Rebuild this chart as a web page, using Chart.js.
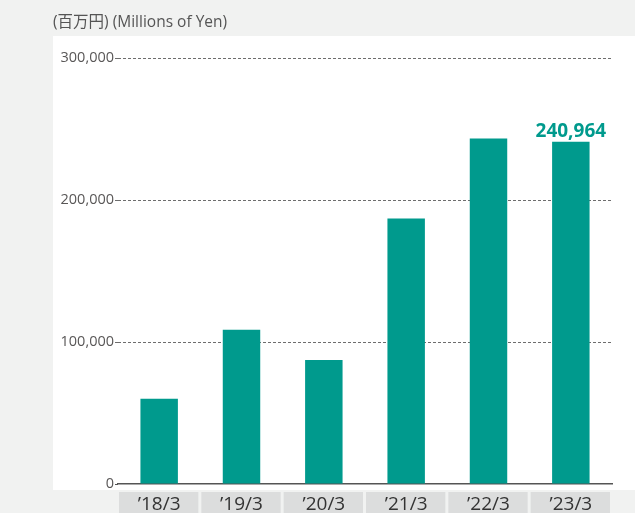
<!DOCTYPE html>
<html>
<head>
<meta charset="utf-8">
<script src="https://cdn.jsdelivr.net/npm/chart.js@4"></script>
<style>
    html, body { margin: 0; padding: 0; background: #f1f2f1; }
    #wrap { width: 635px; height: 513px; position: relative; }
</style>
</head>
<body>
<div id="wrap"><canvas id="salesChart"></canvas></div>
<script>
// Data
const categories = ['\u201918/3', '\u201919/3', '\u201920/3', '\u201921/3', '\u201922/3', '\u201923/3'];
const values = [60000, 108600, 87400, 186900, 243300, 240964];
const yTicks = [0, 100000, 200000, 300000];
const unitLabel = '(百万円) (Millions of Yen)';
const highlightIndex = 5;

const barColor = '#009a8d';
const fontFamily = '"Open Sans", "Noto Sans CJK JP", sans-serif';

// Background panel, title and category cells
const backdropPlugin = {
    id: 'backdrop',
    beforeDraw(chart) {
        const { ctx, chartArea, scales } = chart;
        ctx.save();
        ctx.fillStyle = '#f1f2f1';
        ctx.fillRect(0, 0, chart.width, chart.height);
        ctx.fillStyle = '#ffffff';
        ctx.fillRect(53, 36, chart.width - 53, 454);

        ctx.fillStyle = '#555555';
        ctx.font = '15.5px ' + fontFamily;
        ctx.textBaseline = 'alphabetic';
        ctx.fillText(unitLabel, 53, 27);

        const x = scales.x;
        const step = x.width / categories.length;
        ctx.fillStyle = '#dcdddd';
        categories.forEach((c, i) => {
            const cx = x.getPixelForTick(i);
            ctx.fillRect(cx - step / 2 + 1, chartArea.bottom + 8, step - 3, chart.height - chartArea.bottom - 8);
        });
        ctx.restore();
    },
    afterDatasetsDraw(chart) {
        const { ctx } = chart;
        const bar = chart.getDatasetMeta(0).data[highlightIndex];
        ctx.save();
        ctx.fillStyle = barColor;
        ctx.font = 'bold 19px ' + fontFamily;
        ctx.textAlign = 'center';
        ctx.textBaseline = 'bottom';
        ctx.fillText(values[highlightIndex].toLocaleString('en-US'), bar.x, bar.y - 1);
        ctx.restore();
    }
};

new Chart(document.getElementById('salesChart'), {
    type: 'bar',
    data: {
        labels: categories,
        datasets: [{
            data: values,
            backgroundColor: barColor,
            borderWidth: 0,
            categoryPercentage: 1,
            barPercentage: 0.455
        }]
    },
    options: {
        responsive: true,
        maintainAspectRatio: false,
        animation: false,
        layout: { padding: { top: 58, right: 23, left: 0, bottom: 0 } },
        plugins: {
            legend: { display: false },
            tooltip: { enabled: false }
        },
        scales: {
            y: {
                min: 0,
                max: 300000,
                afterFit(scale) { scale.width = 118; },
                afterBuildTicks(scale) { scale.ticks = yTicks.map(v => ({ value: v })); },
                border: { display: false, dash: [3, 2] },
                grid: {
                    color: ctx => ctx.tick && ctx.tick.value === 0 ? 'rgba(0,0,0,0)' : '#6d6d6d',
                    lineWidth: 1,
                    drawTicks: true,
                    tickLength: 3,
                    tickColor: ctx => ctx.tick && ctx.tick.value === 0 ? '#555555' : '#6d6d6d',
                    tickBorderDash: ctx => ctx.tick && ctx.tick.value === 0 ? [] : [3, 2]
                },
                ticks: {
                    padding: 1,
                    color: '#595757',
                    font: { family: fontFamily, size: 14.5 },
                    callback: v => v.toLocaleString('en-US')
                }
            },
            x: {
                afterFit(scale) { scale.height = 29; },
                grid: { display: false },
                border: { display: true, color: '#555555', width: 1.5 },
                ticks: {
                    padding: 1,
                    color: '#333333',
                    font: { family: fontFamily, size: 19 }
                }
            }
        }
    },
    plugins: [backdropPlugin]
});
</script>
</body>
</html>
